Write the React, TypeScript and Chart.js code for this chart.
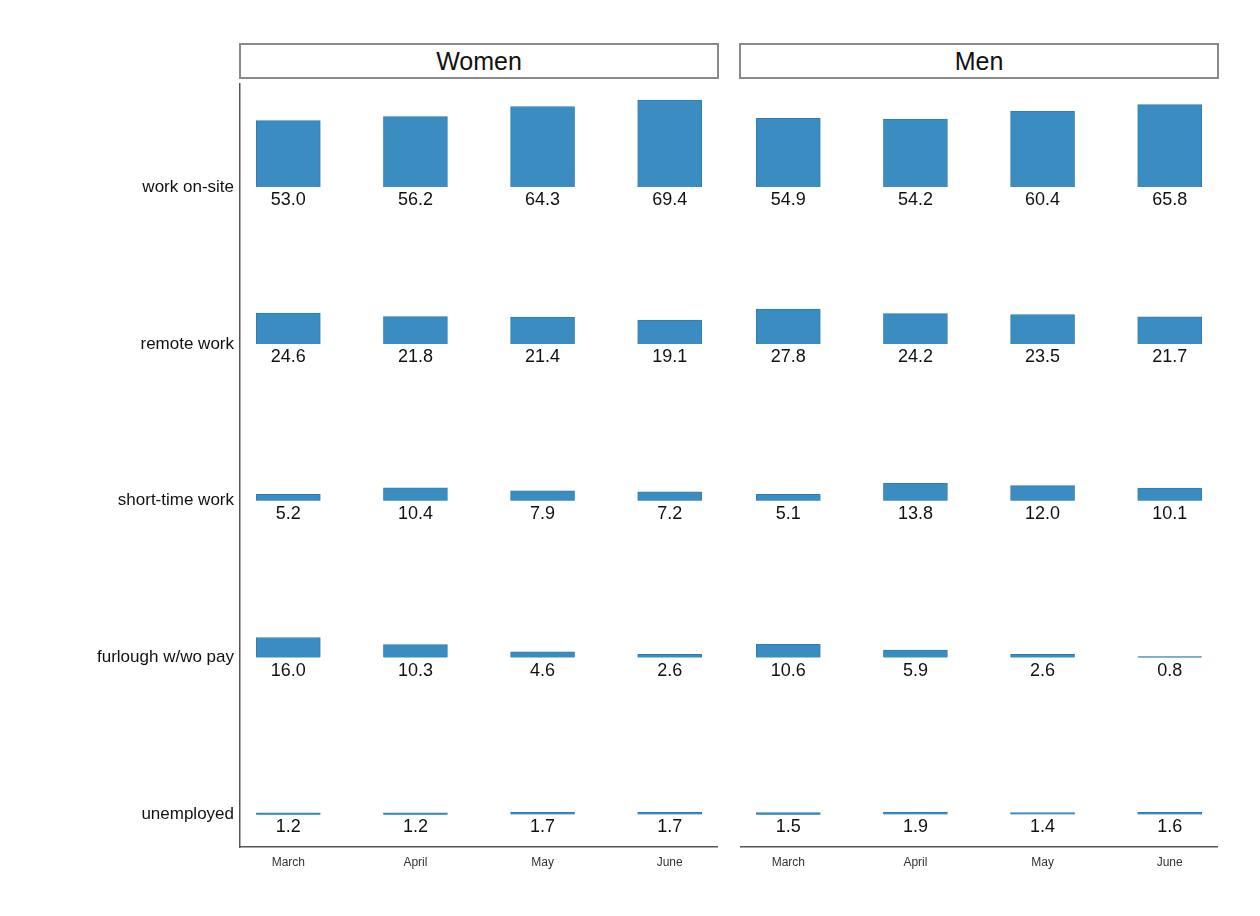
import React, { useEffect, useRef } from "react";
import { Chart, registerables } from "chart.js";

Chart.register(...registerables);

const months = ["March", "April", "May", "June"];
const statuses = ["work on-site", "remote work", "short-time work", "furlough w/wo pay", "unemployed"];

const womenOnSite = [53.0, 56.2, 64.3, 69.4];
const womenRemote = [24.6, 21.8, 21.4, 19.1];
const womenShort = [5.2, 10.4, 7.9, 7.2];
const womenFurlough = [16.0, 10.3, 4.6, 2.6];
const womenUnemployed = [1.2, 1.2, 1.7, 1.7];

const menOnSite = [54.9, 54.2, 60.4, 65.8];
const menRemote = [27.8, 24.2, 23.5, 21.7];
const menShort = [5.1, 13.8, 12.0, 10.1];
const menFurlough = [10.6, 5.9, 2.6, 0.8];
const menUnemployed = [1.5, 1.9, 1.4, 1.6];

const ROW_GAP = 125;
const baseOf = (row: number) => (statuses.length - 1 - row) * ROW_GAP;
const FONT = "'Liberation Sans', Arial, sans-serif";

const valueLabels = {
  id: "valueLabels",
  afterDatasetsDraw(chart: any) {
    const ctx = chart.ctx;
    const y = chart.scales.y;
    const x = chart.scales.x;
    ctx.save();
    ctx.fillStyle = "#111";
    ctx.font = `18px ${FONT}`;
    ctx.textAlign = "center";
    ctx.textBaseline = "top";
    chart.data.datasets.forEach((ds: any, r: number) => {
      ds.values.forEach((v: number, i: number) => {
        ctx.fillText(v.toFixed(1), x.getPixelForValue(i + 1), y.getPixelForValue(baseOf(r)) + 4);
      });
    });
    ctx.restore();
  },
};

function Panel({ rows, showY }: { rows: number[][]; showY: boolean }) {
  const ref = useRef<HTMLCanvasElement | null>(null);
  useEffect(() => {
    const ctx = ref.current?.getContext("2d");
    if (!ctx) return;
    const chart = new Chart(ctx, {
      type: "bar",
      data: {
        datasets: rows.map((vals, r) => ({
          label: statuses[r],
          values: vals,
          data: vals.map((v, i) => ({ x: i + 1, y: [baseOf(r), baseOf(r) + v] })),
          backgroundColor: "#3a8cc1",
          borderColor: "#2f7db3",
          borderWidth: 1,
          barThickness: 64,
          grouped: false,
        })) as any,
      },
      options: {
        animation: false,
        responsive: true,
        maintainAspectRatio: false,
        layout: { padding: 0 },
        plugins: { legend: { display: false }, tooltip: { enabled: false } },
        scales: {
          x: {
            type: "linear",
            min: 0.62,
            max: 4.38,
            offset: false,
            grid: { display: false, drawTicks: false },
            border: { display: true, color: "#555", width: 1.5 },
            afterBuildTicks: (s: any) => { s.ticks = months.map((_, i) => ({ value: i + 1 })); },
            afterFit: (s: any) => { s.height = 34; s.paddingLeft = 0; s.paddingRight = 0; },
            ticks: {
              callback: (v: any) => months[v - 1],
              color: "#333",
              padding: 8,
              font: { family: FONT, size: 12 },
              maxRotation: 0,
            },
          },
          y: {
            display: true,
            min: -26,
            max: 583,
            grid: { display: false, drawTicks: false },
            border: { display: showY, color: "#555", width: 1.5 },
            afterBuildTicks: (s: any) => { s.ticks = statuses.map((_, r) => ({ value: baseOf(r) })); },
            afterFit: (s: any) => { s.width = showY ? 240 : 0; s.paddingTop = 0; s.paddingBottom = 0; },
            ticks: {
              display: showY,
              callback: (v: any) => statuses[statuses.length - 1 - v / ROW_GAP],
              color: "#111",
              padding: 6,
              font: { family: FONT, size: 17 },
            },
          },
        },
      },
      plugins: [valueLabels],
    });
    return () => chart.destroy();
  }, [rows, showY]);
  return <canvas ref={ref} />;
}

const strip: React.CSSProperties = {
  position: "absolute",
  top: 43,
  height: 36,
  border: "2px solid #8a8a8a",
  boxSizing: "border-box",
  background: "#fff",
  fontFamily: FONT,
  fontSize: 25,
  color: "#111",
  display: "flex",
  alignItems: "center",
  justifyContent: "center",
};

export default function App() {
  const women = [womenOnSite, womenRemote, womenShort, womenFurlough, womenUnemployed];
  const men = [menOnSite, menRemote, menShort, menFurlough, menUnemployed];
  return (
    <div style={{ position: "absolute", left: 0, top: 0, width: 1260, height: 916, background: "#fff" }}>
      <div style={{ ...strip, left: 239, width: 480 }}>Women</div>
      <div style={{ ...strip, left: 739, width: 480 }}>Men</div>
      <div style={{ position: "absolute", left: 0, top: 83, width: 718, height: 798 }}>
        <Panel rows={women} showY={true} />
      </div>
      <div style={{ position: "absolute", left: 740, top: 83, width: 478, height: 798 }}>
        <Panel rows={men} showY={false} />
      </div>
    </div>
  );
}
